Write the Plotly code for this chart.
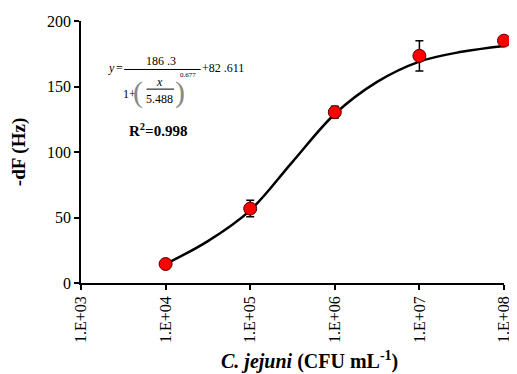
import plotly.graph_objects as go

# Data
conc = [1e4, 1e5, 1e6, 1e7, 1e8]
dF = [14.5, 56.8, 130.4, 173.4, 185.0]
dF_err = [0.0, 6.3, 4.5, 11.6, 2.5]

# Fitted curve
curve_x = [1e4, 10**4.5, 1e5, 10**5.5, 1e6, 10**6.5, 1e7, 10**7.5, 1e8]
curve_y = [14.5, 32.0, 55.5, 92.5, 129.0, 153.5, 169.0, 176.5, 181.0]

x_tickvals = [1e3, 1e4, 1e5, 1e6, 1e7, 1e8]
x_ticktext = ["1.E+03", "1.E+04", "1.E+05", "1.E+06", "1.E+07", "1.E+08"]
y_tickvals = [0, 50, 100, 150, 200]

SERIF = "Liberation Serif, Times New Roman, serif"

fig = go.Figure()
fig.add_trace(go.Scatter(x=curve_x, y=curve_y, mode="lines",
                         line=dict(color="black", width=2.5, shape="spline"),
                         hoverinfo="skip", showlegend=False, cliponaxis=False))
fig.add_trace(go.Scatter(x=conc, y=dF, mode="markers",
                         marker=dict(color="#ff0000", size=13,
                                     line=dict(color="#5a0000", width=1)),
                         error_y=dict(type="data", array=dF_err, visible=True,
                                      color="black", thickness=1.5, width=4),
                         showlegend=False, cliponaxis=False))

fig.update_layout(
    width=509, height=366,
    margin=dict(l=73, r=5, t=10, b=91),
    plot_bgcolor="white", paper_bgcolor="white",
    font=dict(family=SERIF, color="black"),
    xaxis=dict(type="log", range=[3, 8], tickvals=x_tickvals, ticktext=x_ticktext,
               tickangle=-90, showgrid=False, zeroline=False,
               showline=True, linecolor="black", linewidth=1.5,
               ticks="outside", ticklen=5, tickwidth=1.5, tickcolor="black",
               ticklabeloverflow="allow",
               tickfont=dict(family=SERIF, size=16, color="black")),
    yaxis=dict(range=[0, 200], tickvals=y_tickvals, showgrid=False, zeroline=False,
               showline=True, linecolor="black", linewidth=1.5,
               ticks="outside", ticklen=5, tickwidth=1.5, tickcolor="black",
               tickfont=dict(family=SERIF, size=16, color="black"),
               title=dict(text="<b>-dF (Hz)</b>",
                          font=dict(family=SERIF, size=19, color="black"),
                          standoff=17)),
)

def note(text, x, y, size=12, xanchor="center", italic=False, color="black"):
    if italic:
        text = "<i>" + text + "</i>"
    fig.add_annotation(text=text, x=x, y=y, xref="paper", yref="paper",
                       xanchor=xanchor, yanchor="middle", showarrow=False,
                       font=dict(family=SERIF, size=size, color=color))

# x-axis title
note("<b><i>C. jejuni</i> (CFU mL<sup>-1</sup>)</b>", 0.54, -0.295, size=20)

# fitted equation
note("y", 0.072, 0.819, italic=True)
note("=", 0.092, 0.819)
note("186 .3", 0.190, 0.848)
note("+82 .611", 0.336, 0.819)
note("1+", 0.114, 0.721)
note("(", 0.135, 0.728, size=30, color="#888888")
note(")", 0.234, 0.728, size=30, color="#888888")
note("x", 0.186, 0.768, italic=True)
note("5.488", 0.186, 0.702)
note("0.677", 0.253, 0.792, size=7)
note("<b>R<sup>2</sup>=0.998</b>", 0.109, 0.585, size=15, xanchor="left")

fig.add_shape(type="line", xref="paper", yref="paper", x0=0.102, x1=0.283,
              y0=0.815, y1=0.815, line=dict(color="black", width=1))
fig.add_shape(type="line", xref="paper", yref="paper", x0=0.155, x1=0.220,
              y0=0.740, y1=0.740, line=dict(color="black", width=1))

fig.write_html("out.html")
